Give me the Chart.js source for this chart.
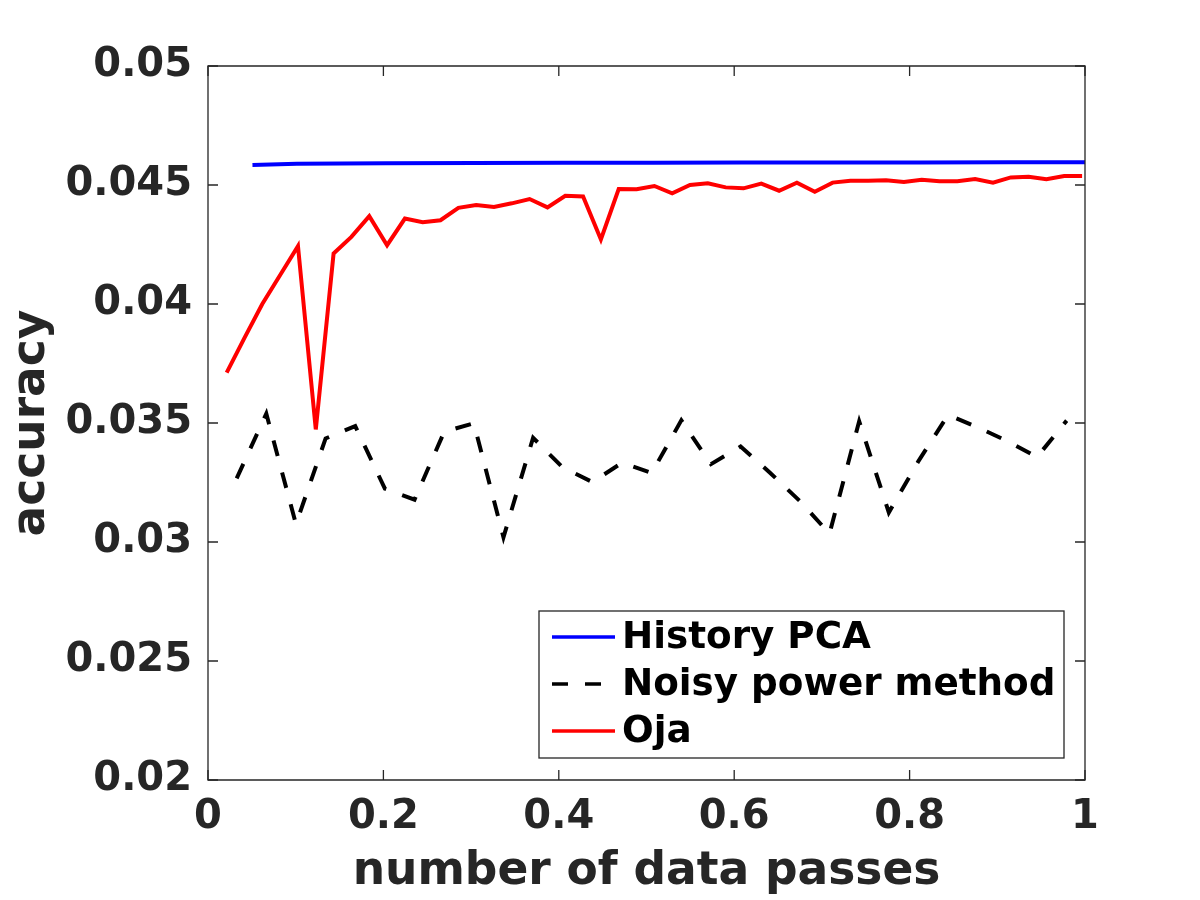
<!DOCTYPE html>
<html>
<head>
<meta charset="utf-8">
<script src="https://cdn.jsdelivr.net/npm/chart.js@4.4.1/dist/chart.umd.min.js"></script>
<style>
  html, body { margin: 0; padding: 0; background: #ffffff; }
  #wrap { width: 1200px; height: 900px; }
</style>
</head>
<body>
<div id="wrap"><canvas id="c" width="1200" height="900"></canvas></div>
<script>
// ---- data ----
const seriesNames = ['History PCA', 'Noisy power method', 'Oja'];

const historyX = [0.0507, 0.1014, 0.2028, 0.3042, 0.4056, 0.5070, 0.6084, 0.7098, 0.8112, 0.9126, 1.0];
const historyY = [0.04584, 0.04589, 0.04591, 0.04592, 0.04593, 0.04594, 0.04595, 0.04595, 0.04595, 0.04596, 0.04596];

const noisyX = [0.0327, 0.0665, 0.1003, 0.1341, 0.1679, 0.2017, 0.2355, 0.2693, 0.3031, 0.3369,
                0.3707, 0.4045, 0.4383, 0.4721, 0.5059, 0.5397, 0.5735, 0.6073, 0.6411, 0.6749,
                0.7087, 0.7425, 0.7763, 0.8101, 0.8439, 0.8777, 0.9115, 0.9453, 0.9791];
const noisyY = [0.03267, 0.03539, 0.03075, 0.03435, 0.03487, 0.03224, 0.03178, 0.03463, 0.03499, 0.03020,
                0.03438, 0.03313, 0.03252, 0.03333, 0.03290, 0.03511, 0.03327, 0.03401, 0.03290, 0.03172,
                0.03035, 0.03507, 0.03124, 0.03340, 0.03534, 0.03482, 0.03424, 0.03357, 0.03510];

const ojaX = [0.0213, 0.0416, 0.0619, 0.0823, 0.1026, 0.1229, 0.1432, 0.1635, 0.1839, 0.2042,
              0.2245, 0.2448, 0.2651, 0.2855, 0.3058, 0.3261, 0.3464, 0.3667, 0.3871, 0.4074,
              0.4277, 0.4480, 0.4683, 0.4887, 0.5090, 0.5293, 0.5496, 0.5699, 0.5903, 0.6106,
              0.6309, 0.6512, 0.6715, 0.6919, 0.7122, 0.7325, 0.7528, 0.7731, 0.7935, 0.8138,
              0.8341, 0.8544, 0.8747, 0.8951, 0.9154, 0.9357, 0.9560, 0.9763, 0.9967];
const ojaY = [0.03712, 0.03858, 0.04000, 0.04122, 0.04243, 0.03473, 0.04212, 0.04282, 0.04369, 0.04247,
              0.04359, 0.04344, 0.04352, 0.04404, 0.04416, 0.04408, 0.04423, 0.04441, 0.04406, 0.04455,
              0.04452, 0.04271, 0.04483, 0.04482, 0.04496, 0.04465, 0.04500, 0.04507, 0.04490, 0.04486,
              0.04506, 0.04476, 0.04510, 0.04472, 0.04510, 0.04518, 0.04518, 0.04520, 0.04513, 0.04522,
              0.04516, 0.04516, 0.04525, 0.04510, 0.04532, 0.04535, 0.04524, 0.04538, 0.04538];

const xTickValues = [0, 0.2, 0.4, 0.6, 0.8, 1];
const xTickLabels = ['0', '0.2', '0.4', '0.6', '0.8', '1'];
const yTickValues = [0.02, 0.025, 0.03, 0.035, 0.04, 0.045, 0.05];
const yTickLabels = ['0.02', '0.025', '0.03', '0.035', '0.04', '0.045', '0.05'];

const xTitle = 'number of data passes';
const yTitle = 'accuracy';

// ---- build ----
function pts(xs, ys) { return xs.map((x, i) => ({ x: x, y: ys[i] })); }

const FONT = "'DejaVu Sans', 'Liberation Sans', sans-serif";
const AXIS_COLOR = '#262626';

const framePlugin = {
  id: 'frame',
  afterDraw(chart) {
    const ctx = chart.ctx;
    const a = chart.chartArea;
    const xs = chart.scales.x, ys = chart.scales.y;
    const tl = 10;
    ctx.save();
    ctx.strokeStyle = AXIS_COLOR;
    ctx.lineWidth = 1.3;
    ctx.beginPath();
    ctx.rect(a.left, a.top, a.right - a.left, a.bottom - a.top);
    ctx.stroke();
    ctx.beginPath();
    xTickValues.forEach(v => {
      const px = xs.getPixelForValue(v);
      ctx.moveTo(px, a.bottom); ctx.lineTo(px, a.bottom - tl);
      ctx.moveTo(px, a.top); ctx.lineTo(px, a.top + tl);
    });
    yTickValues.forEach(v => {
      const py = ys.getPixelForValue(v);
      ctx.moveTo(a.left, py); ctx.lineTo(a.left + tl, py);
      ctx.moveTo(a.right, py); ctx.lineTo(a.right - tl, py);
    });
    ctx.stroke();
    ctx.restore();
  }
};

const legendPlugin = {
  id: 'boxLegend',
  afterDraw(chart) {
    const ctx = chart.ctx;
    const a = chart.chartArea;
    const left = a.right - 546, right = a.right - 21;
    const top = a.bottom - 169, bottom = a.bottom - 22;
    ctx.save();
    ctx.fillStyle = '#ffffff';
    ctx.fillRect(left, top, right - left, bottom - top);
    ctx.strokeStyle = AXIS_COLOR;
    ctx.lineWidth = 1.3;
    ctx.strokeRect(left, top, right - left, bottom - top);
    const byName = {};
    chart.data.datasets.forEach(d => { byName[d.label] = d; });
    seriesNames.forEach((name, i) => {
      const d = byName[name];
      const y = top + 26 + i * 47;
      ctx.beginPath();
      ctx.strokeStyle = d.borderColor;
      ctx.lineWidth = 3.5;
      ctx.setLineDash(d.borderDash || []);
      ctx.moveTo(left + 13, y);
      ctx.lineTo(left + 76, y);
      ctx.stroke();
      ctx.setLineDash([]);
      ctx.fillStyle = '#000000';
      ctx.font = "bold 37.3px " + FONT;
      ctx.textBaseline = 'middle';
      ctx.textAlign = 'left';
      ctx.fillText(name, left + 83, y + 1);
    });
    ctx.restore();
  }
};

new Chart(document.getElementById('c'), {
  type: 'line',
  data: {
    datasets: [
      { label: seriesNames[0], data: pts(historyX, historyY), borderColor: '#0000ff', borderWidth: 4, order: 2 },
      { label: seriesNames[1], data: pts(noisyX, noisyY), borderColor: '#000000', borderWidth: 4, borderDash: [16, 17], order: 1 },
      { label: seriesNames[2], data: pts(ojaX, ojaY), borderColor: '#ff0000', borderWidth: 4, order: 0 }
    ]
  },
  options: {
    responsive: false,
    animation: false,
    devicePixelRatio: 1,
    elements: { point: { radius: 0 }, line: { tension: 0, fill: false, borderCapStyle: 'butt', borderJoinStyle: 'miter' } },
    layout: { padding: { left: 0, top: 66, right: 115, bottom: 0 } },
    plugins: { legend: { display: false }, tooltip: { enabled: false } },
    scales: {
      x: {
        type: 'linear', min: 0, max: 1,
        afterBuildTicks: s => { s.ticks = xTickValues.map(v => ({ value: v })); },
        afterFit: s => { s.height = 120; },
        grid: { display: false, drawTicks: false },
        border: { display: false },
        ticks: {
          padding: 14, color: AXIS_COLOR, maxRotation: 0, autoSkip: false,
          font: { family: FONT, size: 40, weight: 'bold' },
          callback: (v) => { const i = xTickValues.indexOf(v); return i >= 0 ? xTickLabels[i] : ''; }
        },
        title: { display: true, text: xTitle, color: AXIS_COLOR, padding: { top: 0, bottom: 1 },
                 font: { family: FONT, size: 45.5, weight: 'bold' } }
      },
      y: {
        type: 'linear', min: 0.02, max: 0.05,
        afterBuildTicks: s => { s.ticks = yTickValues.map(v => ({ value: v })); },
        afterFit: s => { s.width = 208; },
        grid: { display: false, drawTicks: false },
        border: { display: false },
        ticks: {
          padding: 16, color: AXIS_COLOR, autoSkip: false,
          font: { family: FONT, size: 40, weight: 'bold' },
          callback: (v) => { const i = yTickValues.indexOf(v); return i >= 0 ? yTickLabels[i] : ''; }
        },
        title: { display: true, text: yTitle, color: AXIS_COLOR, padding: { top: 5, bottom: 0 },
                 font: { family: FONT, size: 45.5, weight: 'bold' } }
      }
    }
  },
  plugins: [framePlugin, legendPlugin]
});
</script>
</body>
</html>
